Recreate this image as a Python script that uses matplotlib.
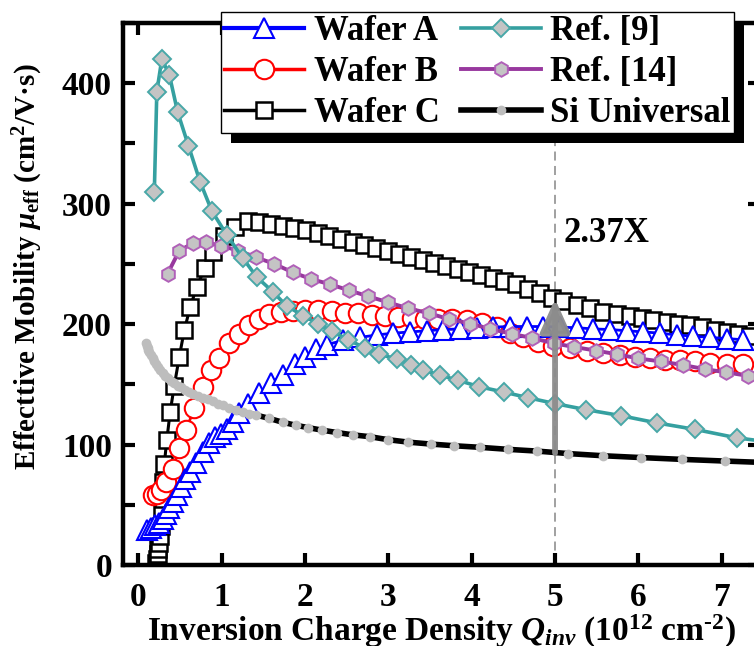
import matplotlib
matplotlib.use("Agg")
import matplotlib.pyplot as plt
import matplotlib.ticker as mticker
from matplotlib.lines import Line2D
from matplotlib.patches import Rectangle

# ── Fonts ─────────────────────────────────────────────────────────────────────
plt.rcParams["font.family"] = ["Liberation Serif", "DejaVu Serif"]
plt.rcParams["font.weight"] = "bold"
plt.rcParams["mathtext.fontset"] = "custom"
plt.rcParams["mathtext.rm"] = "Liberation Serif:bold"
plt.rcParams["mathtext.it"] = "Liberation Serif:italic:bold"
plt.rcParams["mathtext.bf"] = "Liberation Serif:bold"

# ── Data ──────────────────────────────────────────────────────────────────────
wafer_a_x = [0.10, 0.15, 0.20, 0.25, 0.29, 0.33, 0.37, 0.41, 0.46, 0.51, 0.56,
             0.62, 0.69, 0.77, 0.85, 0.92, 0.99, 1.06, 1.13, 1.21, 1.31, 1.45,
             1.59, 1.73, 1.88, 2.00, 2.13, 2.26, 2.46, 2.66, 2.86, 3.06, 3.26,
             3.46, 3.66, 3.86, 4.06, 4.26, 4.46, 4.66, 4.86, 5.06, 5.26, 5.46,
             5.66, 5.86, 6.06, 6.26, 6.46, 6.66, 6.86, 7.06, 7.26]
wafer_a_y = [29, 31, 33, 35, 38, 42, 47, 52, 58, 65, 71,
             77, 85, 94, 101, 106, 109, 113, 119, 126, 134, 143,
             151, 158, 167, 173, 179, 183, 186.5, 189, 191, 192.5, 193.5,
             194.5, 195.5, 196, 197, 197.5, 198, 198, 198, 197.5, 197, 196,
             195.5, 194.5, 193.5, 192.5, 191, 190, 189, 188, 187]

wafer_b_x = [0.18, 0.22, 0.27, 0.33, 0.41, 0.49, 0.57, 0.67, 0.77, 0.87, 0.97,
             1.09, 1.21, 1.33, 1.45, 1.57, 1.71, 1.85, 2.00, 2.16, 2.32, 2.48,
             2.64, 2.80, 2.96, 3.12, 3.28, 3.44, 3.60, 3.76, 3.94, 4.12, 4.30,
             4.46, 4.62, 4.80, 4.98, 5.18, 5.38, 5.58, 5.78, 5.96, 6.14, 6.32,
             6.50, 6.68, 6.86, 7.06, 7.26]
wafer_b_y = [58, 59, 62, 69, 80, 97, 112, 130, 148, 162, 172,
             184, 192, 199, 204.5, 208, 210, 211, 211.5, 211.5, 210.5, 209.5,
             209, 207.5, 206.5, 205.5, 205, 204.5, 204.5, 204, 203, 201, 198,
             193, 189, 185, 182, 180, 178, 176, 174.5, 173, 172, 170.5,
             170, 169, 167.5, 167, 167]

wafer_c_x = [0.21, 0.22, 0.23, 0.24, 0.25, 0.26, 0.27, 0.28, 0.29, 0.30, 0.31,
             0.34, 0.38, 0.43, 0.49, 0.55, 0.62, 0.70, 0.80, 0.90, 1.03, 1.16,
             1.31, 1.45, 1.59, 1.73, 1.87, 2.01, 2.15, 2.29, 2.43, 2.57, 2.71,
             2.85, 2.99, 3.13, 3.27, 3.41, 3.55, 3.69, 3.83, 3.97, 4.11, 4.25,
             4.39, 4.53, 4.67, 4.82, 4.96, 5.10, 5.26, 5.42, 5.58, 5.74, 5.90,
             6.04, 6.18, 6.34, 6.48, 6.62, 6.76, 6.92, 7.06, 7.20, 7.34]
wafer_c_y = [2, 5, 9, 13, 18, 24, 32, 42, 55, 69, 84,
             104, 127, 149, 173, 195, 214, 231, 247, 260, 273, 281,
             286, 285, 283, 281.5, 280, 278.5, 276, 273.5, 271, 268.5, 266,
             263.5, 261, 258.5, 256, 253, 251, 248.5, 246, 243.5, 241, 238.5,
             236, 233, 229.5, 225.5, 222, 219, 216, 213, 210, 208.5, 206.5,
             205, 203, 202, 200.5, 199, 198, 195.5, 193.5, 192, 190.5]

ref9_x = [0.19, 0.22, 0.28, 0.37, 0.47, 0.60, 0.74, 0.88, 1.06, 1.25, 1.42,
          1.61, 1.78, 1.98, 2.16, 2.32, 2.52, 2.72, 2.89, 3.10, 3.27, 3.42,
          3.62, 3.83, 4.09, 4.39, 4.67, 5.00, 5.37, 5.79, 6.22, 6.68, 7.18, 7.70]
ref9_y = [310, 393, 420, 407, 376, 348, 318, 294, 274, 255, 239,
          227, 215, 207, 200, 194, 187, 180, 175, 171, 166, 162,
          157.5, 153.5, 148, 143.5, 139, 134, 129, 124, 118, 112.6, 105.6, 101]

ref14_x = [0.35, 0.49, 0.65, 0.81, 0.99, 1.20, 1.41, 1.63, 1.85, 2.07, 2.30,
           2.53, 2.76, 3.00, 3.24, 3.49, 3.73, 3.98, 4.22, 4.48, 4.72, 4.99,
           5.23, 5.49, 5.74, 6.00, 6.27, 6.54, 6.80, 7.05, 7.32]
ref14_y = [242, 261, 267, 268, 265, 261, 255.5, 250, 243, 237.5, 233,
           228, 223, 218, 213, 209, 204, 200.5, 196, 192, 188.5, 184,
           181, 178, 175, 171.5, 169, 166, 162.6, 160, 157]

si_x = [0.09, 0.10, 0.11, 0.12, 0.13, 0.15, 0.17, 0.19, 0.21, 0.23, 0.26,
        0.29, 0.32, 0.35, 0.39, 0.43, 0.47, 0.51, 0.56, 0.61, 0.66, 0.71,
        0.77, 0.83, 0.89, 0.95, 1.02, 1.09, 1.17, 1.25, 1.33, 1.41, 1.57,
        1.73, 1.89, 2.04, 2.20, 2.38, 2.58, 2.78, 3.00, 3.24, 3.51, 3.79,
        4.10, 4.44, 4.78, 5.16, 5.58, 6.03, 6.52, 7.04, 7.55]
si_y = [184, 182, 180, 178.5, 177, 174, 172, 169, 166.5, 164.5, 161.5,
        159, 157, 155, 153, 151, 149, 147.5, 145.5, 144, 142, 140.5,
        139, 137.5, 136, 134, 132.5, 130.5, 128.6, 127, 125.6, 124.5, 121.7,
        118.5, 116, 114, 112, 110, 108, 106.5, 104, 102, 100.4, 99,
        97.7, 96, 94.6, 92.5, 90.7, 89.2, 87.7, 86.3, 85]

Q_MARK = 5.0          # where the enhancement is marked
RATIO_TXT = "2.37X"

# ── Colours ───────────────────────────────────────────────────────────────────
BLUE   = "#0000ff"
RED    = "#ff0000"
BLACK  = "#000000"
TEAL   = "#35a0a0"
PURPLE = "#98389e"
TEAL_E = "#48a8a8"
PURP_E = "#b060b8"
GREY_F = "#c4c4c4"
SI_F   = "#bdbdbd"

# ── Figure ────────────────────────────────────────────────────────────────────
W, H = 754, 646
fig = plt.figure(figsize=(W / 100, H / 100), dpi=100)
ax = fig.add_axes([123 / W, 1 - 565 / H, (760 - 123) / W, (565 - 23) / H])

ax.axvline(Q_MARK, color="#999999", lw=1.3, dashes=(5, 3), zorder=1)

ax.plot(wafer_c_x, wafer_c_y, "-s", color=BLACK, lw=2.2, ms=11, mew=1.8,
        mfc="white", mec=BLACK, zorder=2)
ax.plot(wafer_b_x, wafer_b_y, "-o", color=RED, lw=2.0, ms=14, mew=1.5,
        mfc="white", mec=RED, zorder=2)
ax.plot(wafer_a_x, wafer_a_y, "-^", color=BLUE, lw=2.0, ms=15, mew=1.5,
        mfc="white", mec=BLUE, zorder=2)
ax.plot(si_x, si_y, "-o", color=BLACK, lw=4.0, ms=7, mew=0,
        mfc=SI_F, zorder=3)
ax.plot(ref14_x, ref14_y, "-h", color=PURPLE, lw=2.8, ms=10.5, mew=1.4,
        mfc=GREY_F, mec=PURP_E, zorder=3)
ax.plot(ref9_x, ref9_y, "-D", color=TEAL, lw=2.6, ms=9.5, mew=1.4,
        mfc=GREY_F, mec=TEAL_E, zorder=3)

# enhancement arrow from Si universal up to wafer C at Q = 5
si_at = si_y[si_x.index(4.78)] - 1.6
c_at = wafer_c_y[wafer_c_x.index(4.96)] - 1
ax.annotate("", xy=(Q_MARK, c_at), xytext=(Q_MARK, si_at),
            arrowprops=dict(arrowstyle="-|>,head_length=1.0,head_width=0.45",
                            color="#8c8c8c", lw=4.2, mutation_scale=20,
                            shrinkA=0, shrinkB=0, alpha=0.95),
            zorder=6)
ax.text(Q_MARK + 0.1, 275, RATIO_TXT, fontsize=25, fontweight="bold",
        ha="left", va="center")

# ── Axes styling ──────────────────────────────────────────────────────────────
ax.set_xlim(-0.186, 7.46)
ax.set_ylim(0, 450)
ax.xaxis.set_major_locator(mticker.MultipleLocator(1))
ax.yaxis.set_major_locator(mticker.MultipleLocator(100))
ax.yaxis.set_minor_locator(mticker.MultipleLocator(50))
for s in ax.spines.values():
    s.set_linewidth(3.2)
ax.tick_params(which="major", direction="in", length=8.5, width=3,
               labelsize=24, top=True, right=True)
ax.tick_params(axis="x", which="major", pad=12)
ax.tick_params(axis="y", which="major", pad=8)
ax.tick_params(which="minor", direction="in", length=8.5, width=3,
               left=True, right=False)

ax.set_xlabel(r"Inversion Charge Density $Q_{inv}$ (10$^{12}$ cm$^{\text{-2}}$)",
              fontsize=24, fontweight="bold", labelpad=0)
fig.text(28 / W, 1 - 267 / H, r"Effecttive Mobility $\mu_{\rm eff}$ (cm$^2$/V·s)",
         fontsize=21, fontweight="bold", rotation=90, ha="center", va="center")

# ── Legend ────────────────────────────────────────────────────────────────────
handles = [
    Line2D([], [], color=BLUE, lw=3, marker="^", ms=15, mew=1.5, mfc="white", mec=BLUE),
    Line2D([], [], color=RED, lw=2.5, marker="o", ms=14, mew=1.5, mfc="white", mec=RED),
    Line2D([], [], color=BLACK, lw=2.5, marker="s", ms=11, mew=1.8, mfc="white", mec=BLACK),
    Line2D([], [], color=TEAL, lw=2.6, marker="D", ms=9.5, mew=1.4, mfc=GREY_F, mec=TEAL_E),
    Line2D([], [], color=PURPLE, lw=2.8, marker="h", ms=10.5, mew=1.4, mfc=GREY_F, mec=PURP_E),
    Line2D([], [], color=BLACK, lw=4.0, marker="o", ms=7, mew=0, mfc=SI_F),
]
labels = ["Wafer A", "Wafer B", "Wafer C", "Ref. [9]", "Ref. [14]", "Si Universal"]
leg = ax.legend(handles, labels, ncol=2, loc="upper left",
                bbox_to_anchor=(221 / W, 1 - 12 / H), bbox_transform=fig.transFigure,
                prop=dict(family="Liberation Serif", weight="bold", size=25),
                handlelength=2.3, handletextpad=0.28, columnspacing=0.6,
                labelspacing=0.22, borderpad=0.1, borderaxespad=0,
                frameon=True, fancybox=False, framealpha=1, edgecolor="black")
leg.get_frame().set_linewidth(1.0)

# black drop shadow, offset 10 px right/down
fig.canvas.draw()
bb = leg.get_window_extent().transformed(fig.transFigure.inverted())
shadow = Rectangle((bb.x0 + 10 / W, bb.y0 - 10 / H), bb.width, bb.height,
                   transform=fig.transFigure, facecolor="black", edgecolor="none",
                   zorder=4.9, clip_on=False)
ax.add_artist(shadow)

fig.savefig("out.png", dpi=100)
